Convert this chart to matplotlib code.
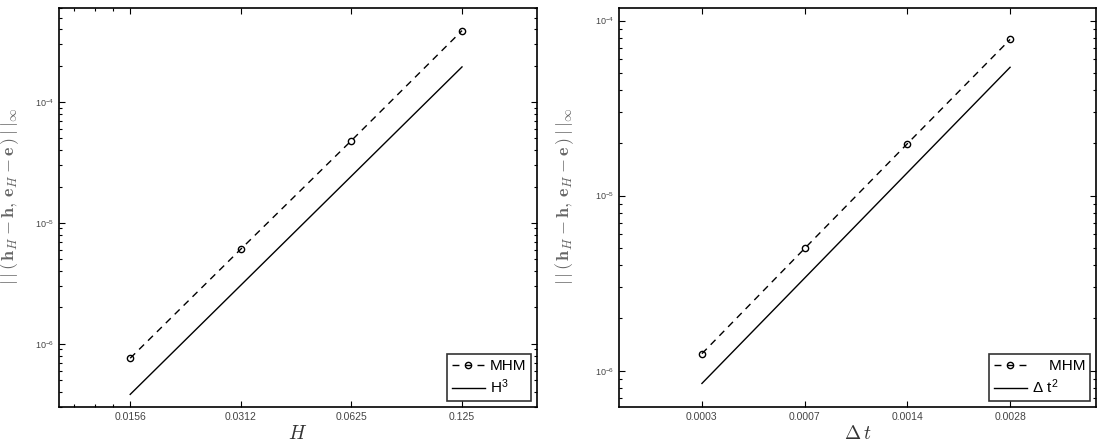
import matplotlib
matplotlib.use("Agg")
import matplotlib.pyplot as plt
import numpy as np
from matplotlib.ticker import FixedLocator, NullLocator, LogLocator, NullFormatter

plt.rcParams['font.family'] = ['Liberation Sans', 'DejaVu Sans']
plt.rcParams['mathtext.fontset'] = 'cm'

# Left panel data
H = np.array([0.015625, 0.03125, 0.0625, 0.125])
err_H = np.array([7.6e-7, 6.07e-6, 4.8e-5, 3.9e-4])
H_ticklabels = ['0.0156', '0.0312', '0.0625', '0.125']
H_ref_coef = 0.1

# Right panel data
dt = np.array([0.00035, 0.0007, 0.0014, 0.0028])
err_dt = np.array([1.25e-6, 4.99e-6, 1.98e-5, 7.8e-5])
dt_ticklabels = ['0.0003', '0.0007', '0.0014', '0.0028']
dt_ref_coef = 6.9

ylabel = r'$|\,|\,(\,\mathbf{h}_H-\mathbf{h},\,\mathbf{e}_H-\mathbf{e}\,)\,|\,|_\infty$'
tick_color = '#444444'

fig = plt.figure(figsize=(11.02, 4.44), dpi=100)
ax1 = fig.add_axes([59/1102, 37/444, (537-59)/1102, (407-8)/444])
ax2 = fig.add_axes([619/1102, 37/444, (1096-619)/1102, (407-8)/444])

def style(ax):
    ax.set_xscale('log')
    ax.set_yscale('log')
    ax.tick_params(which='both', direction='in', top=True, right=True,
                   colors='black', labelcolor=tick_color, labelsize=7.5, width=0.8)
    ax.tick_params(which='major', length=4)
    ax.tick_params(which='minor', length=2)
    for s in ax.spines.values():
        s.set_linewidth(1.2)
    ax.tick_params(axis='y', labelsize=6.5)

mhm_kw = dict(color='black', linestyle=(0, (5, 4)), linewidth=1.0, marker='o',
              markersize=4.5, markerfacecolor='none', markeredgewidth=1.0)

leg_kw = dict(loc='lower right', fontsize=11, frameon=True, fancybox=False,
              edgecolor='black', handlelength=2.2, handletextpad=0.3,
              borderpad=0.3, labelspacing=0.3, borderaxespad=0.4)

# Left
style(ax1)
ax1.plot(H, err_H, label='MHM', **mhm_kw)
ax1.plot(H, H_ref_coef * H**3, color='black', linewidth=1.0, label=r'H$^\mathregular{3}$')
ax1.set_xlim(0.01, 0.2)
ax1.set_ylim(3e-7, 6e-4)
ax1.xaxis.set_major_locator(FixedLocator(H))
ax1.set_xticklabels(H_ticklabels)
ax1.xaxis.set_minor_locator(FixedLocator([0.011, 0.0125, 0.014]))
ax1.xaxis.set_minor_formatter(NullFormatter())
ax1.yaxis.set_major_locator(LogLocator(base=10))
ax1.yaxis.set_minor_locator(LogLocator(base=10, subs=np.arange(2, 10)))
ax1.yaxis.set_minor_formatter(NullFormatter())
ax1.set_xlabel(r'$H$', fontsize=14, color='#333333', labelpad=2)
ax1.set_ylabel(ylabel, fontsize=13, color='#666666', va='center')
ax1.yaxis.set_label_coords(-0.103, 0.53)
leg1 = ax1.legend(**leg_kw)
leg1.get_frame().set_linewidth(1.2)

# Right
style(ax2)
ax2.plot(dt, err_dt, label='    MHM', **mhm_kw)
ax2.plot(dt, dt_ref_coef * dt**2, color='black', linewidth=1.0,
         label='\u0394 t$^\\mathregular{2}$')
ax2.set_xlim(0.0002, 0.005)
ax2.set_ylim(6.2e-7, 1.18e-4)
ax2.xaxis.set_major_locator(FixedLocator(dt))
ax2.set_xticklabels(dt_ticklabels)
ax2.xaxis.set_minor_locator(NullLocator())
ax2.yaxis.set_major_locator(LogLocator(base=10))
ax2.yaxis.set_minor_locator(LogLocator(base=10, subs=np.arange(2, 10)))
ax2.yaxis.set_minor_formatter(NullFormatter())
ax2.set_xlabel(r'$\Delta\, t$', fontsize=14, color='#333333', labelpad=2)
ax2.set_ylabel(ylabel, fontsize=13, color='#666666', va='center')
ax2.yaxis.set_label_coords(-0.115, 0.53)
leg2 = ax2.legend(**leg_kw)
leg2.get_frame().set_linewidth(1.2)

fig.savefig('out.png', dpi=100)
